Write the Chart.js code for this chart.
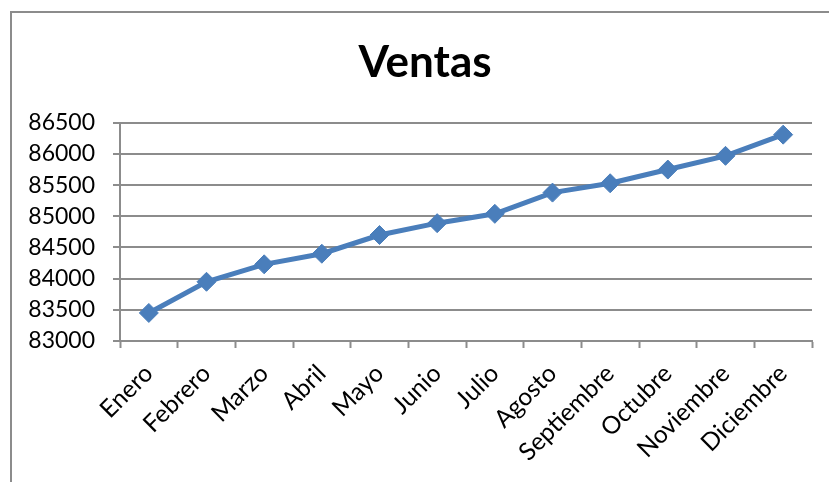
<!DOCTYPE html>
<html>
<head>
<meta charset="utf-8">
<script src="https://cdn.jsdelivr.net/npm/chart.js@4/dist/chart.umd.min.js"></script>
<style>
  html, body { margin: 0; padding: 0; background: #fff; }
  #wrap { width: 829px; height: 482px; }
</style>
</head>
<body>
<div id="wrap"><canvas id="canvas" width="829" height="482"></canvas></div>
<script>
let meses = ["Enero", "Febrero", "Marzo", "Abril", "Mayo", "Junio", "Julio",
             "Agosto", "Septiembre", "Octubre", "Noviembre", "Diciembre"];
let ventas = [83450, 83950, 84230, 84400, 84700, 84890, 85040, 85380, 85530, 85750, 85970, 86310];
let yMin = 83000;
let yMax = 86500;
let yStep = 500;

// gray frame around the chart (left and top edges visible),
// and nudge the title so it is centred on the frame, not the canvas
let frame = {
    id: 'frame',
    afterLayout(chart) {
        if (chart.titleBlock) {
            chart.titleBlock.left += 19;
            chart.titleBlock.right += 19;
        }
    },
    beforeDraw(chart) {
        let ctx = chart.ctx;
        ctx.save();
        ctx.strokeStyle = '#8c8c8c';
        ctx.lineWidth = 2;
        ctx.beginPath();
        ctx.moveTo(11, 482);
        ctx.lineTo(11, 12);
        ctx.lineTo(829, 12);
        ctx.stroke();
        ctx.restore();
    }
};

let chart = new Chart(document.getElementById("canvas"), {
    type: 'line',
    data: {
        labels: meses,
        datasets: [{
            label: "Ventas",
            data: ventas,
            borderColor: "#4a7ebb",
            backgroundColor: "#4a7ebb",
            borderWidth: 5,
            pointStyle: 'rectRot',
            pointRadius: 9.5,
            pointHoverRadius: 9.5,
            pointBorderWidth: 1,
            tension: 0
        }]
    },
    options: {
        responsive: false,
        animation: false,
        layout: { padding: { left: 0, right: 17, top: 0, bottom: 0 } },
        plugins: {
            legend: { display: false },
            tooltip: { enabled: false },
            title: {
                display: true,
                text: "Ventas",
                color: '#000',
                font: { family: 'Lato', size: 44, weight: 'bold' },
                padding: { top: 36, bottom: 34 }
            }
        },
        scales: {
            x: {
                offset: true,
                grid: {
                    offset: true,
                    drawOnChartArea: false,
                    drawTicks: true,
                    tickLength: 7,
                    tickWidth: 2,
                    tickColor: '#8c8c8c'
                },
                border: { color: '#8c8c8c', width: 2 },
                ticks: {
                    autoSkip: false,
                    minRotation: 45,
                    maxRotation: 45,
                    padding: 11,
                    color: '#000',
                    font: { family: 'Lato', size: 24.5 }
                },
                afterFit(scale) { scale.height = 141; }
            },
            y: {
                min: yMin,
                max: yMax,
                grid: {
                    color: '#8c8c8c',
                    lineWidth: 2,
                    tickLength: 7
                },
                border: { color: '#8c8c8c', width: 2 },
                ticks: {
                    stepSize: yStep,
                    padding: 18,
                    color: '#000',
                    font: { family: 'Lato', size: 23 },
                    callback: v => String(v)
                },
                afterFit(scale) { scale.width = 120; }
            }
        }
    },
    plugins: [frame]
});
</script>
</body>
</html>
